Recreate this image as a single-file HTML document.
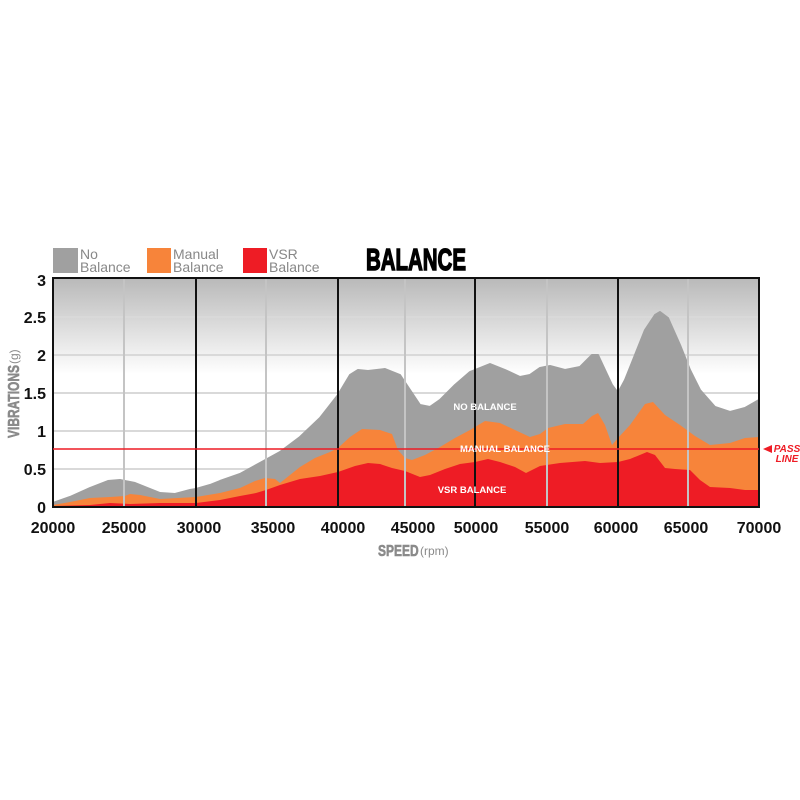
<!DOCTYPE html>
<html><head><style>body{margin:0;background:#fff}svg{display:block}</style></head><body>
<svg width="800" height="800" viewBox="0 0 800 800" font-family="Liberation Sans, sans-serif">
<defs><linearGradient id="bg" x1="0" y1="0" x2="0" y2="1">
<stop offset="0" stop-color="#b9b9b9"/><stop offset="0.42" stop-color="#ffffff"/><stop offset="1" stop-color="#ffffff"/></linearGradient></defs>
<rect x="53" y="278" width="706" height="229" fill="url(#bg)"/>
<g stroke="#d9d9d9" stroke-width="2">
<line x1="53" y1="469" x2="759" y2="469"/><line x1="53" y1="431" x2="759" y2="431"/><line x1="53" y1="393" x2="759" y2="393"/><line x1="53" y1="355" x2="759" y2="355"/><line x1="53" y1="317" x2="759" y2="317"/></g>
<polygon fill="#a0a0a0" stroke="#a0a0a0" stroke-linejoin="round" stroke-width="2" points="53,507 53,503 70,497 90,488 108,481 120,480 135,483 150,489 160,493 175,494 190,490 196,489 210,485 220,481 240,474 260,463 280,452 300,437 320,418 338,395 350,375 358,370 368,371 385,369 400,375 410,390 420,405 430,407 440,400 455,385 470,372 480,368 490,364 505,370 520,377 530,375 540,368 550,366 565,370 580,367 592,355 598,355 605,370 612,385 618,393 625,380 635,355 645,330 655,315 660,312 668,318 680,345 690,370 700,390 715,407 730,412 745,408 759,400 759,507"/>
<polygon fill="#f7843a" points="53,507 53,505 70,502 90,498 110,497 125,496 130,494 140,495 160,499 196,497 220,493 240,488 255,481 265,478 275,479 280,483 300,467 315,458 330,452 338,448 350,437 362,429 380,430 392,434 398,450 405,458 412,460 425,455 440,447 455,438 470,430 485,421 500,423 515,430 530,437 540,434 548,428 565,424 583,424 592,416 598,413 605,425 612,445 618,438 630,425 645,404 653,402 665,415 680,425 695,436 710,445 730,443 745,438 759,437 759,507"/>
<polygon fill="#ee1c25" points="53,507 53,506 90,505 110,503 130,504 160,503 196,503 220,500 240,496 256,493 266,490 280,485 300,479 320,476 338,472 355,466 368,463 380,464 392,468 405,471 420,477 430,475 445,469 460,464 475,462 488,459 500,462 515,467 526,473 540,466 560,463 585,461 600,463 618,462 630,459 647,452 655,455 665,468 675,469 690,470 700,480 710,487 730,488 745,490 759,490 759,507"/>
<g stroke="#c4c4c4" stroke-width="2">
<line x1="124" y1="278" x2="124" y2="507"/><line x1="266" y1="278" x2="266" y2="507"/><line x1="405" y1="278" x2="405" y2="507"/><line x1="547" y1="278" x2="547" y2="507"/><line x1="688" y1="278" x2="688" y2="507"/></g>
<g stroke="#111" stroke-width="2">
<line x1="196" y1="278" x2="196" y2="507"/><line x1="338" y1="278" x2="338" y2="507"/><line x1="475" y1="278" x2="475" y2="507"/><line x1="618" y1="278" x2="618" y2="507"/></g>
<rect x="53" y="278" width="706" height="229" fill="none" stroke="#111" stroke-width="2"/>
<line x1="53" y1="449" x2="759" y2="449" stroke="#ee1c25" stroke-width="1.5"/>
<g fill="#fff" font-weight="bold" font-size="9.5" text-anchor="middle">
<text x="485" y="410">NO BALANCE</text><text x="505" y="452">MANUAL BALANCE</text><text x="472" y="493">VSR BALANCE</text></g>
<polygon points="763,449 772,445 772,453" fill="#ee1c25"/>
<g fill="#ee1c25" font-weight="bold" font-style="italic" font-size="10" text-anchor="middle">
<text x="787" y="452">PASS</text><text x="787" y="462">LINE</text></g>
<g font-weight="bold" font-size="16" fill="#111" text-anchor="end">
<text x="46" y="513">0</text><text x="46" y="475">0.5</text><text x="46" y="437">1</text><text x="46" y="399">1.5</text><text x="46" y="361">2</text><text x="46" y="323">2.5</text><text x="46" y="286">3</text></g>
<g font-weight="bold" font-size="16" fill="#111" text-anchor="middle">
<text x="53" y="533">20000</text><text x="124" y="533">25000</text><text x="199" y="533">30000</text><text x="273" y="533">35000</text><text x="343" y="533">40000</text><text x="413" y="533">45000</text><text x="476" y="533">50000</text><text x="547" y="533">55000</text><text x="616" y="533">60000</text><text x="686" y="533">65000</text><text x="759" y="533">70000</text></g>
<text x="378" y="556" font-size="16" font-weight="bold" fill="#8a8a8a" stroke="#8a8a8a" stroke-width="0.6" transform="translate(378,0) scale(0.75,1) translate(-378,0)">SPEED</text>
<text x="420" y="555" font-size="12" fill="#8a8a8a">(rpm)</text>
<g transform="translate(19,438) rotate(-90)">
<text x="0" y="0" font-size="16" font-weight="bold" fill="#8a8a8a" stroke="#8a8a8a" stroke-width="0.6" transform="scale(0.75,1)">VIBRATIONS</text>
<text x="74" y="-1" font-size="12" fill="#8a8a8a">(g)</text></g>
<rect x="53" y="248" width="25" height="25" fill="#a0a0a0"/>
<rect x="147" y="248" width="24" height="25" fill="#f7843a"/>
<rect x="243" y="248" width="24" height="25" fill="#ee1c25"/>
<g font-size="14" fill="#888">
<text x="80" y="259">No</text><text x="80" y="272">Balance</text>
<text x="173" y="259">Manual</text><text x="173" y="272">Balance</text>
<text x="269" y="259">VSR</text><text x="269" y="272">Balance</text></g>
<text x="366" y="270" font-size="31" font-weight="bold" fill="#000" stroke="#000" stroke-width="1.5" transform="translate(366,0) scale(0.66,1) translate(-366,0)">BALANCE</text>
</svg>
</body></html>
